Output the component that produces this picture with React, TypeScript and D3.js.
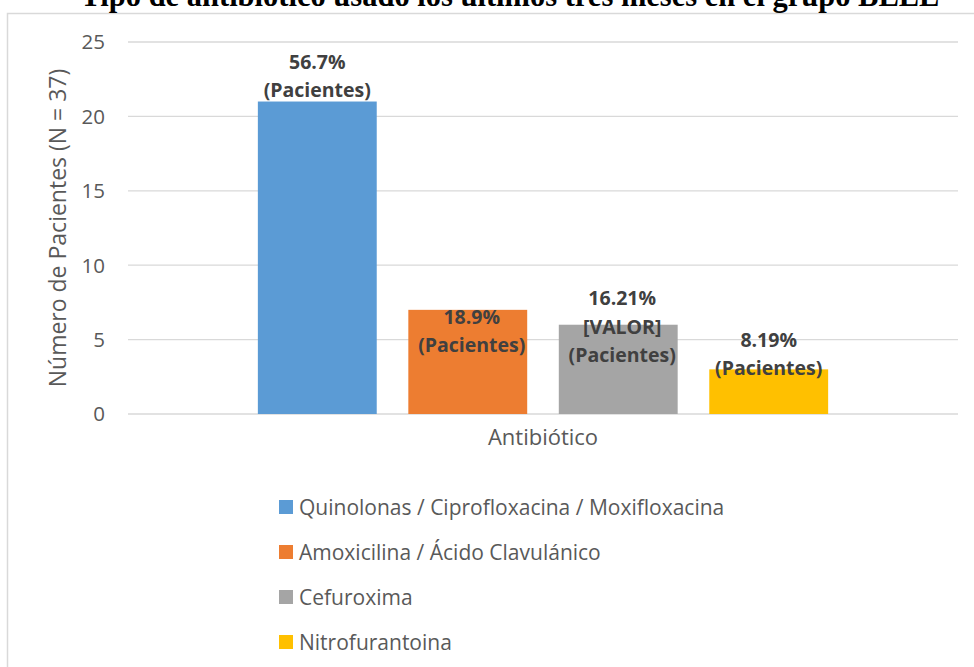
import React, { useRef, useEffect } from 'react';
import * as d3 from 'd3';

const title = 'Tipo de antibiótico usado los últimos tres meses en el grupo BLEE';
const series = [
  'Quinolonas / Ciprofloxacina / Moxifloxacina',
  'Amoxicilina / Ácido Clavulánico',
  'Cefuroxima',
  'Nitrofurantoina',
];
const values = [21, 7, 6, 3];
const labels = [
  ['56.7%', '(Pacientes)'],
  ['18.9%', '(Pacientes)'],
  ['16.21%', '[VALOR]', '(Pacientes)'],
  ['8.19%', '(Pacientes)'],
];
const colors = ['#5b9bd5', '#ed7d31', '#a5a5a5', '#ffc000'];
const yTicks = [0, 5, 10, 15, 20, 25];
const xTitle = 'Antibiótico';
const yTitle = 'Número de Pacientes (N = 37)';

export default function App() {
  const ref = useRef<HTMLDivElement>(null);

  useEffect(() => {
    const width = 974;
    const height = 667;
    const plot = { left: 128, right: 958, top: 42, bottom: 414 };
    const font = "'Open Sans', sans-serif";

    const svg = d3
      .select(ref.current)
      .call((g) => g.select('svg').remove())
      .append('svg')
      .attr('width', width)
      .attr('height', height)
      .style('position', 'absolute')
      .style('left', 0)
      .style('top', 0)
      .style('background', '#fff');

    // chart frame
    svg.append('rect')
      .attr('x', 7.5)
      .attr('y', 13.5)
      .attr('width', 1000)
      .attr('height', 700)
      .attr('fill', 'none')
      .attr('stroke', '#d9d9d9')
      .attr('stroke-width', 1.5);

    // title (partly cut off at the top, as in the source)
    svg.append('text')
      .attr('x', 510)
      .attr('y', 6)
      .attr('text-anchor', 'middle')
      .attr('font-family', "'Liberation Serif', serif")
      .attr('font-weight', 'bold')
      .attr('font-size', 30.5)
      .text(title);

    const y = d3.scaleLinear().domain([0, 25]).range([plot.bottom, plot.top]);
    const x = d3.scaleBand()
      .domain(series)
      .range([plot.left, plot.right])
      .paddingInner(0.21)
      .paddingOuter(0.863);

    svg.append('g')
      .selectAll('line')
      .data(yTicks)
      .join('line')
      .attr('x1', plot.left)
      .attr('x2', plot.right)
      .attr('y1', (d) => y(d))
      .attr('y2', (d) => y(d))
      .attr('stroke', '#d9d9d9')
      .attr('stroke-width', 1.3);

    svg.append('g')
      .selectAll('text')
      .data(yTicks)
      .join('text')
      .attr('x', 105)
      .attr('y', (d) => y(d))
      .attr('dy', '0.36em')
      .attr('text-anchor', 'end')
      .attr('font-family', font)
      .attr('font-size', 20.5)
      .attr('fill', '#595959')
      .text((d) => d);

    svg.append('text')
      .attr('transform', `translate(66, ${(plot.top + plot.bottom) / 2}) rotate(-90)`)
      .attr('text-anchor', 'middle')
      .attr('font-family', font)
      .attr('font-size', 23)
      .attr('fill', '#595959')
      .text(yTitle);

    svg.append('g')
      .selectAll('rect')
      .data(series)
      .join('rect')
      .attr('x', (d) => x(d)!)
      .attr('width', x.bandwidth())
      .attr('y', (d, i) => y(values[i]))
      .attr('height', (d, i) => y(0) - y(values[i]))
      .attr('fill', (d, i) => colors[i]);

    // data labels
    const labelBottoms = [90, 345, 355, 368];
    series.forEach((s, i) => {
      const cx = x(s)! + x.bandwidth() / 2 + (i === 1 || i === 2 ? 4 : 0);
      const lines = labels[i];
      const t = svg.append('text')
        .attr('text-anchor', 'middle')
        .attr('font-family', font)
        .attr('font-weight', 'bold')
        .attr('font-size', 19.5)
        .attr('fill', '#404040');
      lines.forEach((line, j) => {
        t.append('tspan')
          .attr('x', cx)
          .attr('y', labelBottoms[i] - (lines.length - 1 - j) * 28.5)
          .attr('dy', '0.36em')
          .text(line);
      });
    });

    svg.append('text')
      .attr('x', (plot.left + plot.right) / 2)
      .attr('y', 437)
      .attr('dy', '0.36em')
      .attr('text-anchor', 'middle')
      .attr('font-family', font)
      .attr('font-size', 22)
      .attr('fill', '#595959')
      .text(xTitle);

    const legend = svg.append('g')
      .selectAll('g')
      .data(series)
      .join('g')
      .attr('transform', (d, i) => `translate(279, ${507 + i * 45})`);

    legend.append('rect')
      .attr('y', -7)
      .attr('width', 14)
      .attr('height', 14)
      .attr('fill', (d, i) => colors[i]);

    legend.append('text')
      .attr('x', 20)
      .attr('dy', '0.36em')
      .attr('font-family', font)
      .attr('font-size', 21)
      .attr('fill', '#595959')
      .text((d) => d);
  }, []);

  return <div ref={ref}></div>;
}
